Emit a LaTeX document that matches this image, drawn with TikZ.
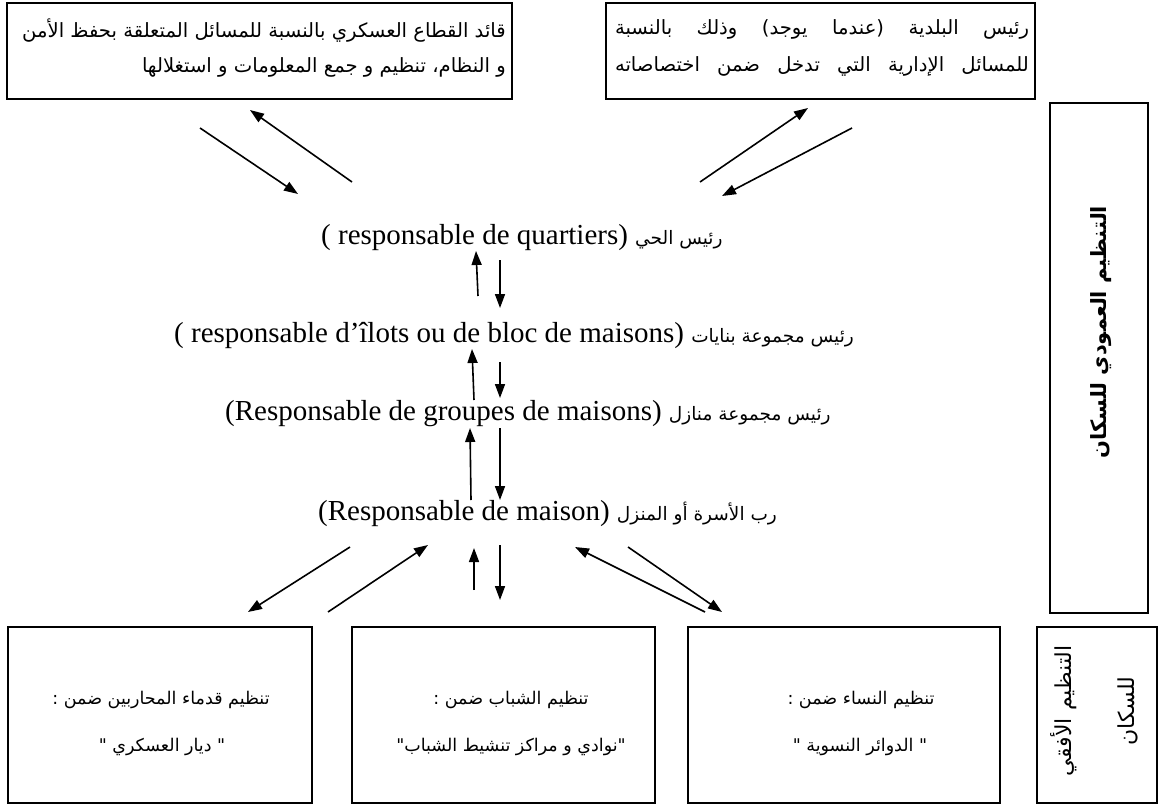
\documentclass[tikz,border=0pt]{standalone}
\usepackage{fontspec}
\setmainfont{Liberation Serif}
\newfontfamily\ar[Script=Arabic]{DejaVu Sans}
\TeXXeTstate=1
\usetikzlibrary{arrows.meta}
\newcommand{\AR}[1]{{\ar\beginR #1\endR}}
\begin{document}
\begin{tikzpicture}[x=1pt,y=-1pt,
  box/.style={draw,line width=1.8pt,inner sep=0pt},
  thinbox/.style={draw,line width=1.1pt},
  arr/.style={-{Triangle[length=14pt,width=10pt]},line width=1.6pt},
  toptext/.style={font=\ar\fontsize{19.6}{23}\selectfont,inner sep=0pt},
  artext/.style={font=\ar\fontsize{17.5}{21}\selectfont,inner sep=0pt},
  midtext/.style={font=\fontsize{29}{33}\selectfont,inner sep=0pt,anchor=west},
  midar/.style={font=\ar\fontsize{18.5}{22}\selectfont}]
\useasboundingbox (0,0) rectangle (1161,805);
% boxes
\draw[box] (7,3) rectangle (512,99);
\draw[box] (606,3) rectangle (1035,99);
\draw[thinbox] (1050,103) rectangle (1148,613);
\draw[box] (1037,627) rectangle (1157,803);
\draw[box] (8,627) rectangle (312,803);
\draw[box] (352,627) rectangle (655,803);
\draw[box] (688,627) rectangle (1000,803);
% top texts
\node[toptext,anchor=east] (tl1) at (506,31) {\AR{قائد القطاع العسكري بالنسبة للمسائل المتعلقة بحفظ الأمن}};
\node[toptext,anchor=east] (tl2) at (506,67) {\AR{و النظام، تنظيم و جمع المعلومات و استغلالها}};
\node[toptext] (tr1) at (822,29) {\hbox to 414pt{\spaceskip=5pt plus 1fil\beginR رئيس البلدية (عندما يوجد) وذلك بالنسبة\endR}};
\node[toptext] (tr2) at (822,66) {\hbox to 414pt{\spaceskip=5pt plus 1fil\beginR للمسائل الإدارية التي تدخل ضمن اختصاصاته\endR}};
% side texts
\node[font=\ar\bfseries\fontsize{21}{25}\selectfont,rotate=90] (vert) at (1101,332) {\AR{التنظيم العمودي للسكان}};
\node[font=\ar\fontsize{22}{26}\selectfont,rotate=90] (hor1) at (1064,711) {\AR{التنظيم الأفقي}};
\node[font=\ar\fontsize{22}{26}\selectfont,rotate=90] (hor2) at (1128,711) {\AR{للسكان}};
% bottom box texts
\node[artext] (b1a) at (161,700) {\AR{تنظيم قدماء المحاربين ضمن :}};
\node[artext] (b1b) at (162,747) {\AR{" ديار العسكري "}};
\node[artext] (b2a) at (511,700) {\AR{تنظيم الشباب ضمن :}};
\node[artext] (b2b) at (511,747) {\AR{"نوادي و مراكز تنشيط الشباب"}};
\node[artext] (b3a) at (861,700) {\AR{تنظيم النساء ضمن :}};
\node[artext] (b3b) at (860,747) {\AR{" الدوائر النسوية "}};
% middle hierarchy
\node[midtext] (l1) at (321,238) {( responsable de quartiers) {\fontsize{18.5}{22}\selectfont\AR{رئيس الحي}}};
\node[midtext] (l2) at (174,335) {( responsable d’îlots ou de bloc de maisons) {\fontsize{18.5}{22}\selectfont\AR{رئيس مجموعة بنايات}}};
\node[midtext] (l3) at (225,414) {(Responsable de groupes de maisons) {\fontsize{18.5}{22}\selectfont\AR{رئيس مجموعة منازل}}};
\node[midtext] (l4) at (318,514) {(Responsable de maison) {\fontsize{18.5}{22}\selectfont\AR{رب الأسرة أو المنزل}}};
% arrow end points
\coordinate (a1s) at (200,128); \coordinate (a1e) at (298,194);
\coordinate (a2s) at (352,182); \coordinate (a2e) at (250,110);
\coordinate (a3s) at (700,182); \coordinate (a3e) at (808,108);
\coordinate (a4s) at (852,128); \coordinate (a4e) at (722,196);
\coordinate (u1s) at (478,296); \coordinate (u1e) at (476,251);
\coordinate (d1s) at (500,260); \coordinate (d1e) at (500,308);
\coordinate (u2s) at (474,400); \coordinate (u2e) at (472,349);
\coordinate (d2s) at (500,362); \coordinate (d2e) at (500,398);
\coordinate (u3s) at (471,500); \coordinate (u3e) at (470,428);
\coordinate (d3s) at (500,428); \coordinate (d3e) at (500,500);
\coordinate (b1s) at (350,547); \coordinate (b1e) at (248,612);
\coordinate (b2s) at (328,612); \coordinate (b2e) at (428,545);
\coordinate (u4s) at (474,590); \coordinate (u4e) at (474,548);
\coordinate (d4s) at (500,545); \coordinate (d4e) at (500,600);
\coordinate (b3s) at (705,612); \coordinate (b3e) at (575,547);
\coordinate (b4s) at (628,547); \coordinate (b4e) at (722,612);
\foreach \p in {a1,a2,a3,a4,u1,d1,u2,d2,u3,d3,b1,b2,u4,d4,b3,b4}
  \draw[arr] (\p s) -- (\p e);
\end{tikzpicture}
\end{document}
